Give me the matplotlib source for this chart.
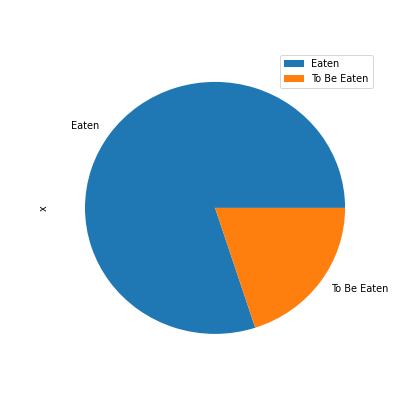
import pandas as pd
import matplotlib
matplotlib.use("Agg")
from matplotlib import pyplot as plt

labels = ["Eaten", "To Be Eaten"]
x = [80, 20]

df = pd.DataFrame({"x": x}, index=labels)

fig, ax = plt.subplots(figsize=(6, 6), dpi=70)
df.plot.pie(y="x", ax=ax)
# reference looks slightly squashed vertically
ax.set_aspect("auto")
ax.set_position([0.125, 0.13, 0.774, 0.75])
fig.savefig("out.png", dpi=70)
